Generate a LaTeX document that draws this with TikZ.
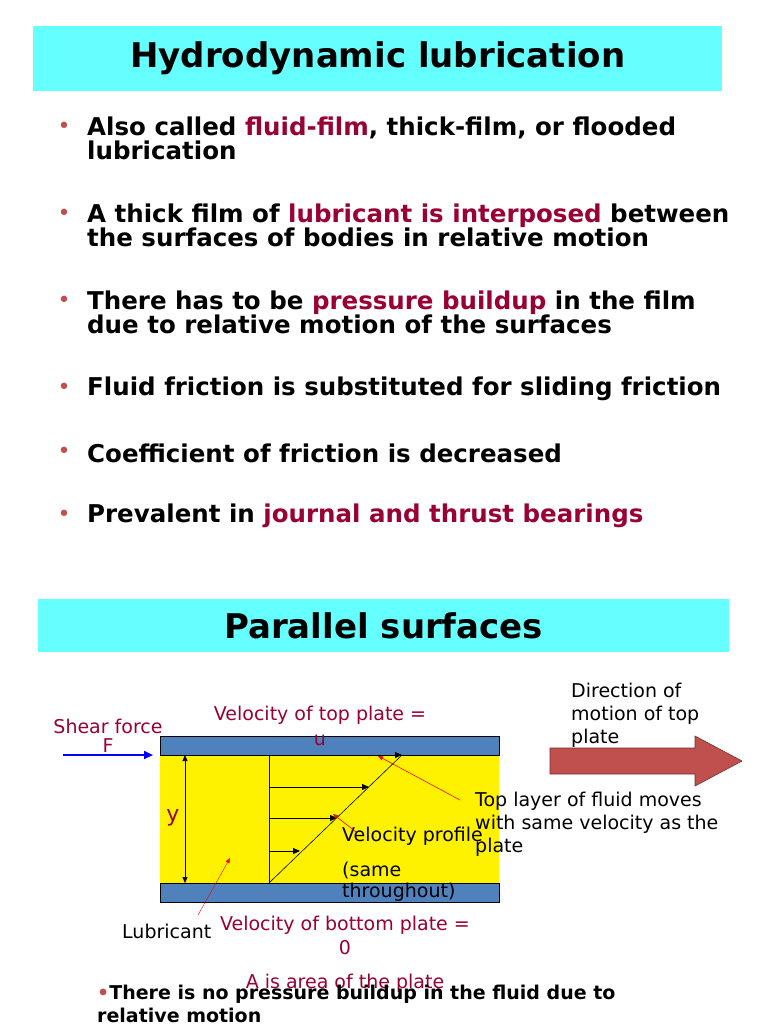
\documentclass[tikz,border=0pt]{standalone}
\usepackage{fontspec}
\setmainfont{DejaVu Sans}
\usetikzlibrary{arrows.meta}
\definecolor{hl}{HTML}{990033}
\definecolor{cy}{HTML}{66FFFF}
\definecolor{pl}{HTML}{4F81BD}
\definecolor{bul}{HTML}{C0504D}
\begin{document}
\begin{tikzpicture}[x=1pt,y=-1pt,
 btxt/.style={anchor=west,font=\fontsize{24.5}{24}\selectfont\bfseries,align=left,inner sep=0pt},
 bdot/.style={anchor=center,text=bul,font=\fontsize{22}{22}\selectfont,inner sep=0pt},
 lbl/.style={font=\fontsize{19}{23}\selectfont,inner sep=0pt},
 parr/.style={-{Triangle[length=7pt,width=6pt]},line width=0.8pt},
 rarr/.style={-{Triangle[length=5pt,width=4pt]},red,line width=0.6pt}]
\useasboundingbox (0,0) rectangle (768,1024);
\fill[white] (0,0) rectangle (768,1024);
% title 1
\node[fill=cy,minimum width=689pt,minimum height=65pt,anchor=north west,inner sep=0pt] (t1) at (33,26) {};
\node[font=\fontsize{34}{36}\selectfont\bfseries] (t1t) at (t1.center) {Hydrodynamic lubrication};
% bullets
\foreach \y/\n in {128/1,215/2,302/3,389/4,453/5,516/6}{\node[bdot] (d\n) at (64,\y) {•};}
\node[btxt,anchor=north west] (b1) at (87,117) {Also called \textcolor{hl}{fluid-film}, thick-film, or flooded\\lubrication};
\node[btxt,anchor=north west] (b2) at (87,204) {A thick film of \textcolor{hl}{lubricant is interposed} between\\the surfaces of bodies in relative motion};
\node[btxt,anchor=north west] (b3) at (87,291) {There has to be \textcolor{hl}{pressure buildup} in the film\\due to relative motion of the surfaces};
\node[btxt] (b4) at (87,389) {Fluid friction is substituted for sliding friction};
\node[btxt] (b5) at (87,453) {Coefficient of friction is decreased};
\node[btxt] (b6) at (87,516) {Prevalent in \textcolor{hl}{journal and thrust bearings}};
% title 2
\node[fill=cy,minimum width=691pt,minimum height=53pt,anchor=north west,inner sep=0pt] (t2) at (38,599) {};
\node[font=\fontsize{34}{36}\selectfont\bfseries] (t2t) at (t2.center) {Parallel surfaces};
% diagram
\fill[yellow] (160,755) rectangle (499,883);
\node[draw=black,fill=pl,minimum width=339pt,minimum height=19pt,anchor=north west,inner sep=0pt] (top) at (160,736) {};
\node[draw=black,fill=pl,minimum width=339pt,minimum height=19pt,anchor=north west,inner sep=0pt] (bot) at (160,883) {};
\coordinate (v0) at (269,883); \coordinate (vt) at (269,755);
\draw[line width=0.7pt] (v0) -- (vt);
\coordinate (pe) at (402,755);
\draw[line width=0.6pt] (v0) -- (pe);
\draw[parr] (vt) -- (pe);
\coordinate (a1) at (269,787); \coordinate (a1e) at (369,787);
\coordinate (a2) at (269,818); \coordinate (a2e) at (337,818);
\coordinate (a3) at (269,851); \coordinate (a3e) at (300,851);
\draw[parr] (a1) -- (a1e); \draw[parr] (a2) -- (a2e); \draw[parr] (a3) -- (a3e);
\coordinate (yt) at (185,755); \coordinate (yb) at (185,883);
\draw[{Triangle[length=6pt,width=5pt]}-{Triangle[length=6pt,width=5pt]},line width=0.7pt] (yt) -- (yb);
\node[lbl,text=hl,font=\fontsize{22}{22}\selectfont] (ylab) at (173,818) {y};
% shear force
\coordinate (sf0) at (63,755); \coordinate (sf1) at (153,755);
\draw[blue,line width=2pt,-{Triangle[length=9pt,width=8pt]}] (sf0) -- (sf1);
\node[lbl,text=hl] (sf) at (108,726) {Shear force};
\node[lbl,text=hl] (sfF) at (108,746) {F};
\node[lbl,text=hl] (vtop) at (320,715) {Velocity of top plate =};
\node[lbl,text=hl] (vu) at (320,740) {u};
\node[lbl,anchor=west,text=black] (vp) at (342,836) {Velocity profile};
\node[lbl,anchor=west,text=black] (vs) at (342,871) {(same};
\node[lbl,anchor=west,text=black] (vth) at (342,892) {throughout)};
\node[lbl,anchor=west] (lub) at (122,931) {Lubricant};
\node[lbl,text=hl] (vbot) at (345,925) {Velocity of bottom plate =};
\node[lbl,text=hl] (v0l) at (345,948) {0};
\node[lbl,text=hl] (area) at (345,983) {A is area of the plate};
\node[lbl,anchor=north west,align=left,text=black] (topl) at (475,792) {Top layer of fluid moves\\with same velocity as the\\plate};
\node[lbl,anchor=north west,align=left,text=black] (dir) at (571,683) {Direction of\\motion of top\\plate};
% red pointers
\coordinate (p1) at (460,800); \coordinate (p1e) at (378,756);
\draw[rarr] (p1) -- (p1e);
\coordinate (p2) at (356,832); \coordinate (p2e) at (333,814);
\draw[rarr] (p2) -- (p2e);
\coordinate (p3) at (198,915); \coordinate (p3e) at (230,858);
\draw[rarr,line width=0.4pt] (p3) -- (p3e);
% big arrow
\draw[fill=bul,draw=bul!60!black,line width=0.6pt] (550,748) -- (695,748) -- (695,736) -- (742,761) -- (695,786) -- (695,774) -- (550,774) -- cycle;
% bottom bullet
\node[anchor=north west,align=left,inner sep=0pt,font=\fontsize{19}{23}\selectfont\bfseries] (bb) at (97,985) {\textcolor{bul}{•}There is no pressure buildup in the fluid due to\\relative motion};
\end{tikzpicture}
\end{document}
